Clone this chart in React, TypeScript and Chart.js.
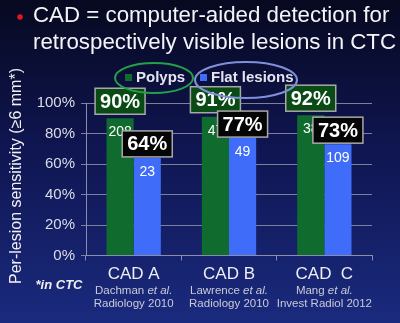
import React, { useEffect, useRef } from "react";
import { Chart, registerables } from "chart.js";

Chart.register(...registerables);

const categories = ["CAD A", "CAD B", "CAD  C"];
const studyAuthors = ["Dachman", "Lawrence", "Mang"];
const studyJournals = ["Radiology 2010", "Radiology 2010", "Invest Radiol 2012"];
const polypsValues = [90, 91, 92];
const flatValues = [64, 77, 73];
const polypsCounts = ["208", "47", "38"];
const flatCounts = ["23", "49", "109"];
const yTicks = [0, 20, 40, 60, 80, 100];
const titleLines = [
  "CAD = computer-aided detection for",
  "retrospectively visible lesions in CTC",
];
const yTitle = "Per-lesion sensitivity (\u22656 mm*)";
const footnote = "*in CTC";

const GREEN = "#0f6b2e";
const BLUE = "#3f6cf8";
const FONT = "Arial, 'Liberation Sans', sans-serif";

const overlayPlugin = {
  id: "overlay",
  afterDatasetsDraw(chart: any) {
    const ctx = chart.ctx;
    const m0 = chart.getDatasetMeta(0);
    const m1 = chart.getDatasetMeta(1);
    ctx.save();
    ctx.textAlign = "center";
    ctx.textBaseline = "middle";
    ctx.fillStyle = "#ffffff";
    ctx.font = `14px ${FONT}`;
    m0.data.forEach((el: any, i: number) => {
      ctx.fillText(polypsCounts[i], el.x, el.y + 14);
    });
    m1.data.forEach((el: any, i: number) => {
      ctx.fillText(flatCounts[i], el.x, el.y + 14);
    });
    const box = (x: number, cy: number, text: string, bg: string) => {
      const w = 50, h = 26;
      ctx.fillStyle = bg;
      ctx.fillRect(x - w / 2, cy - h / 2, w, h);
      ctx.strokeStyle = "#a8a8a8";
      ctx.lineWidth = 1.5;
      ctx.strokeRect(x - w / 2, cy - h / 2, w, h);
      ctx.fillStyle = "#ffffff";
      ctx.font = `bold 20px ${FONT}`;
      ctx.fillText(text, x, cy + 1);
    };
    m0.data.forEach((el: any, i: number) => {
      box(el.x, el.y - 17, polypsValues[i] + "%", "#0a4a14");
    });
    m1.data.forEach((el: any, i: number) => {
      box(el.x, el.y - 14, flatValues[i] + "%", "#050505");
    });
    ctx.restore();
  },
  afterDraw(chart: any) {
    const ctx = chart.ctx;
    const xs = chart.scales.x;
    ctx.save();
    ctx.fillStyle = "#f4f4f8";
    ctx.textBaseline = "middle";
    ctx.textAlign = "left";
    ctx.font = `22.3px ${FONT}`;
    ctx.fillText(titleLines[0], 33, 16);
    ctx.fillText(titleLines[1], 33, 43);
    ctx.fillStyle = "#e01a1a";
    ctx.beginPath();
    ctx.arc(20, 17, 2.8, 0, Math.PI * 2);
    ctx.fill();
    ctx.save();
    ctx.translate(17, 176);
    ctx.rotate(-Math.PI / 2);
    ctx.textAlign = "center";
    ctx.fillStyle = "#f0f0f4";
    ctx.font = `16px ${FONT}`;
    ctx.fillText(yTitle, 0, 0);
    ctx.restore();
    ctx.textAlign = "center";
    ctx.fillStyle = "#f0f0f4";
    ctx.font = `italic bold 13px ${FONT}`;
    ctx.fillText(footnote, 59, 285);
    categories.forEach((c, i) => {
      const x = xs.getPixelForValue(i);
      ctx.fillStyle = "#eeeef4";
      ctx.font = `17px ${FONT}`;
      ctx.fillText(c, x, 274);
      ctx.fillStyle = "#c8cad8";
      const author = studyAuthors[i] + " ";
      const etal = "et al.";
      ctx.font = `11.5px ${FONT}`;
      const wa = ctx.measureText(author).width;
      ctx.font = `italic 11.5px ${FONT}`;
      const we = ctx.measureText(etal).width;
      const start = x - (wa + we) / 2;
      ctx.textAlign = "left";
      ctx.font = `11.5px ${FONT}`;
      ctx.fillText(author, start, 291);
      ctx.font = `italic 11.5px ${FONT}`;
      ctx.fillText(etal, start + wa, 291);
      ctx.textAlign = "center";
      ctx.font = `11.5px ${FONT}`;
      ctx.fillText(studyJournals[i], x, 304);
    });
    ctx.lineWidth = 2;
    ctx.strokeStyle = "#22a04a";
    ctx.beginPath();
    ctx.ellipse(154, 78, 39, 15, 0, 0, Math.PI * 2);
    ctx.stroke();
    ctx.strokeStyle = "#7f8fd8";
    ctx.beginPath();
    ctx.ellipse(246, 80, 51, 18, 0, 0, Math.PI * 2);
    ctx.stroke();
    ctx.fillStyle = GREEN;
    ctx.fillRect(125, 74, 7, 7);
    ctx.fillStyle = BLUE;
    ctx.fillRect(200, 74, 7, 7);
    ctx.textAlign = "left";
    ctx.fillStyle = "#e4e4f0";
    ctx.font = `bold 15px ${FONT}`;
    ctx.fillText("Polyps", 136, 78);
    ctx.fillText("Flat lesions", 211, 78);
    ctx.restore();
  },
};

export default function App() {
  const ref = useRef<HTMLCanvasElement | null>(null);
  useEffect(() => {
    if (!ref.current) return;
    const chart = new Chart(ref.current, {
      type: "bar",
      data: {
        labels: categories,
        datasets: [
          { label: "Polyps", data: polypsValues, backgroundColor: GREEN },
          { label: "Flat lesions", data: flatValues, backgroundColor: BLUE },
        ],
      },
      options: {
        animation: false,
        responsive: false,
        events: [],
        layout: { padding: { top: 103, right: 28, left: 0, bottom: 0 } },
        plugins: { legend: { display: false }, tooltip: { enabled: false } },
        datasets: { bar: { categoryPercentage: 0.57, barPercentage: 1 } },
        scales: {
          x: {
            grid: {
              display: true,
              drawOnChartArea: false,
              drawTicks: true,
              tickLength: 5,
              color: "#8a8ea8",
            },
            border: { color: "#8a8ea8", width: 1 },
            ticks: { display: false },
            afterFit(scale: any) {
              scale.height = 67.5;
            },
          },
          y: {
            min: 0,
            max: 100,
            afterBuildTicks(scale: any) {
              scale.ticks = yTicks.map((v) => ({ value: v }));
            },
            ticks: {
              color: "#dcdce8",
              font: { size: 15, family: FONT },
              padding: 6,
              callback: (v: any) => v + "%",
            },
            grid: { color: "#7c809c", tickLength: 5, lineWidth: 1 },
            border: { color: "#8a8ea8" },
            afterFit(scale: any) {
              scale.width = 86;
            },
          },
        },
      },
      plugins: [overlayPlugin],
    } as any);
    return () => chart.destroy();
  }, []);
  return (
    <div
      style={{
        position: "fixed",
        left: 0,
        top: 0,
        width: 400,
        height: 323,
        background: "linear-gradient(180deg, #070920 0%, #0f1550 45%, #1a2a7e 100%)",
      }}
    >
      <canvas ref={ref} width={400} height={323} style={{ display: "block" }} />
    </div>
  );
}
